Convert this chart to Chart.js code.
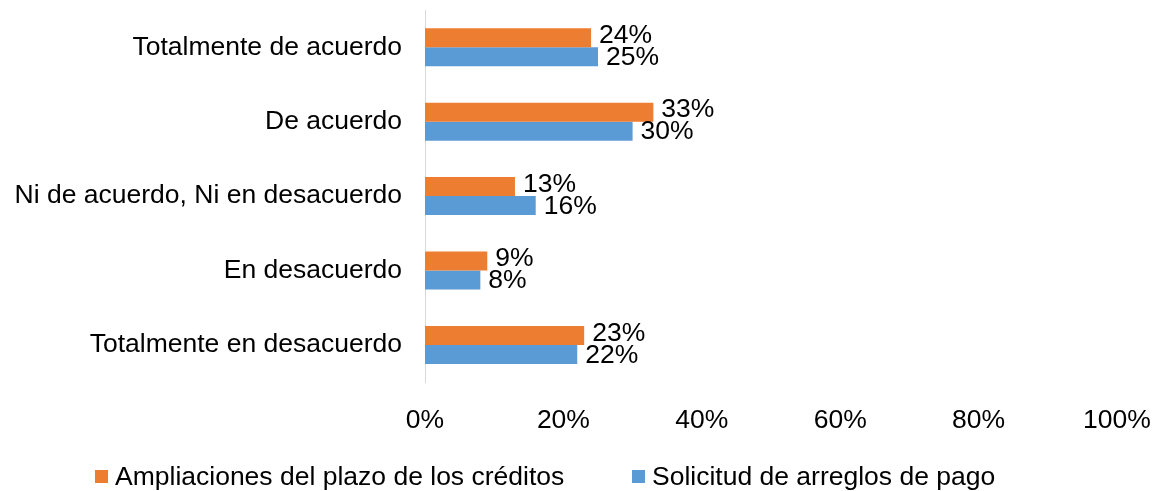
<!DOCTYPE html>
<html>
<head>
<meta charset="utf-8">
<script src="https://cdn.jsdelivr.net/npm/chart.js@4.4.1/dist/chart.umd.min.js"></script>
<style>
  html, body { margin: 0; padding: 0; background: #fff; }
  #wrap { position: relative; width: 1152px; height: 491px; }
  #chart { display: block; }
  .item {
    position: absolute; top: 461px; display: flex; align-items: center;
    font-family: "Liberation Sans", Arial, sans-serif; font-size: 26.5px; color: #000; white-space: nowrap;
  }
  .box { width: 13px; height: 13px; margin-right: 7px; }
</style>
</head>
<body>
<div id="wrap">
  <canvas id="chart" width="1152" height="491"></canvas>
</div>
<script>
// categorias de arriba hacia abajo
const categories = [
  'Totalmente de acuerdo',
  'De acuerdo',
  'Ni de acuerdo, Ni en desacuerdo',
  'En desacuerdo',
  'Totalmente en desacuerdo'
]
const series_names = ['Ampliaciones del plazo de los créditos', 'Solicitud de arreglos de pago']
const ampliaciones = [24, 33, 13, 9, 23]
const solicitud = [25, 30, 16, 8, 22]
const x_ticks = [0, 20, 40, 60, 80, 100]
const colors = ['#ED7D31', '#5B9BD5']

const font_family = '"Liberation Sans", Arial, sans-serif'
const font_size = 26.5

// etiquetas de valor al final de cada barra
const value_labels = {
  id: 'value_labels',
  afterDatasetsDraw(chart) {
    const ctx = chart.ctx
    ctx.save()
    ctx.font = font_size + 'px ' + font_family
    ctx.fillStyle = '#000'
    ctx.textAlign = 'left'
    ctx.textBaseline = 'middle'
    chart.data.datasets.forEach((ds, i) => {
      const meta = chart.getDatasetMeta(i)
      meta.data.forEach((bar, j) => {
        const dy = i == 0 ? -2 : 1
        ctx.fillText(ds.data[j] + '%', bar.x + 8, bar.y + dy)
      })
    })
    ctx.restore()
  }
}

const chart = new Chart(document.getElementById('chart'), {
  type: 'bar',
  data: {
    labels: categories,
    datasets: [
      { label: series_names[0], data: ampliaciones, backgroundColor: colors[0] },
      { label: series_names[1], data: solicitud, backgroundColor: colors[1] }
    ]
  },
  options: {
    indexAxis: 'y',
    responsive: false,
    animation: false,
    layout: { padding: { top: 10, right: 35, bottom: 31, left: 0 } },
    datasets: { bar: { barPercentage: 1, categoryPercentage: 0.51 } },
    plugins: {
      legend: { display: false },
      tooltip: { enabled: false }
    },
    scales: {
      x: {
        min: 0, max: 100,
        afterBuildTicks: s => { s.ticks = x_ticks.map(v => ({ value: v })) },
        afterFit: s => { s.paddingLeft = 0; s.paddingRight = 0 },
        grid: { display: false, drawTicks: false },
        border: { display: false },
        ticks: {
          padding: 23,
          color: '#000',
          font: { family: font_family, size: font_size },
          callback: v => v + '%'
        }
      },
      y: {
        afterFit: s => { s.width = 425; s.paddingTop = 0; s.paddingBottom = 0 },
        grid: { display: false, drawTicks: false },
        border: { display: true, color: '#D9D9D9', width: 1 },
        ticks: {
          padding: 23,
          color: '#000',
          font: { family: font_family, size: font_size }
        }
      }
    }
  },
  plugins: [value_labels]
})

// leyenda en html
const legend_left = [95, 632]
const wrap = document.getElementById('wrap')
series_names.forEach((name, i) => {
  const item = document.createElement('div')
  item.className = 'item'
  item.style.left = legend_left[i] + 'px'
  const box = document.createElement('span')
  box.className = 'box'
  box.style.background = colors[i]
  const txt = document.createElement('span')
  txt.textContent = name
  item.appendChild(box)
  item.appendChild(txt)
  wrap.appendChild(item)
})
</script>
</body>
</html>
